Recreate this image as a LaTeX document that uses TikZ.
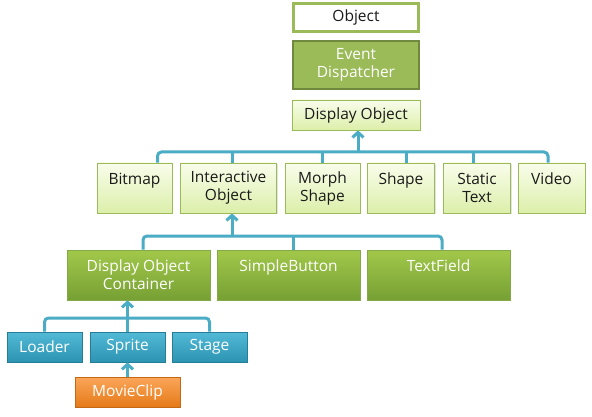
\documentclass[tikz,border=0pt]{standalone}
\usepackage{fontspec}
\setmainfont{Open Sans}
\usetikzlibrary{arrows.meta,shadows}
\definecolor{olive}{HTML}{9BBB59}
\definecolor{oliveDark}{HTML}{71893F}
\definecolor{leafTop}{HTML}{F9FDEB}
\definecolor{leafBot}{HTML}{DCEFAA}
\definecolor{grassTop}{HTML}{A2C84A}
\definecolor{grassBot}{HTML}{76A034}
\definecolor{skyTop}{HTML}{52BAD6}
\definecolor{skyBot}{HTML}{2C93B2}
\definecolor{sunTop}{HTML}{FBA65A}
\definecolor{sunBot}{HTML}{E57A18}
\definecolor{wire}{HTML}{4BACC6}
\definecolor{ink}{HTML}{1A1A1A}

\begin{document}
\begin{tikzpicture}[x=1pt,y=-1pt,>={Straight Barb[length=5pt,width=11pt]},
  box/.style={rectangle,align=center,inner sep=0pt,text=ink,font=\fontsize{15.5}{18}\selectfont,
    drop shadow={shadow xshift=1.3pt,shadow yshift=-1.3pt,opacity=.22}},
  rootbox/.style={box,draw=olive,line width=3pt,fill=white,minimum width=125pt,minimum height=28pt},
  basebox/.style={box,draw=oliveDark,line width=2.5pt,fill=olive,text=white,minimum width=126pt,minimum height=48pt},
  leafbox/.style={box,draw=olive,line width=.8pt,top color=leafTop,bottom color=leafBot,minimum height=#1},
  leafbox/.default=50pt,
  grassbox/.style={box,draw=grassBot!90,line width=.6pt,top color=grassTop,bottom color=grassBot,text=white,minimum width=143pt,minimum height=50pt},
  skybox/.style={box,draw=skyBot!85!black,line width=.6pt,top color=skyTop,bottom color=skyBot,text=white,minimum width=75pt,minimum height=30pt},
  sunbox/.style={box,draw=sunBot!85!black,line width=.6pt,top color=sunTop,bottom color=sunBot,text=white,minimum width=105pt,minimum height=30pt},
  link/.style={wire,line width=3pt,rounded corners=4pt}]
  \fill[white] (0,0) rectangle (592,417);
  \node[rootbox] (object) at (356,17.5) {Object};
  \node[basebox] (evdisp) at (356,65) {Event\\Dispatcher};
  \node[leafbox=30pt,minimum width=128pt] (dispobj) at (356,115) {Display Object};
  \node[leafbox,minimum width=75pt] (bitmap) at (134.5,188) {Bitmap\\\mbox{}};
  \node[leafbox,minimum width=96pt] (interobj) at (228.5,188) {Interactive\\Object};
  \node[leafbox,minimum width=75pt] (morph) at (322.5,188) {Morph\\Shape};
  \node[leafbox,minimum width=67pt] (shape) at (401,188) {Shape\\\mbox{}};
  \node[leafbox,minimum width=67pt] (stattext) at (477,188) {Static\\Text};
  \node[leafbox,minimum width=67pt] (video) at (551.5,188) {Video\\\mbox{}};
  \node[grassbox] (container) at (138.5,275) {Display Object\\Container};
  \node[grassbox] (button) at (288.5,275) {SimpleButton\\\mbox{}};
  \node[grassbox] (textfield) at (438.5,275) {TextField\\\mbox{}};
  \node[skybox] (loader) at (44.5,347) {Loader};
  \node[skybox] (sprite) at (127.5,347) {Sprite};
  \node[skybox] (stage) at (209.5,347) {Stage};
  \node[sunbox] (movieclip) at (127.5,392) {MovieClip};
  \coordinate (bar1) at (358,152);
  \coordinate (bar2) at (232,236);
  \coordinate (bar3) at (127.5,318);
  \draw[link] ([xshift=23pt]bitmap.north) -- ([xshift=23pt]bitmap.north |- bar1) -| ([xshift=-3.5pt]video.north);
  \draw[link] ([xshift=4pt]interobj.north) -- ([xshift=4pt]interobj.north |- bar1);
  \draw[link] (morph.north) -- (morph.north |- bar1);
  \draw[link] ([xshift=5pt]shape.north) -- ([xshift=5pt]shape.north |- bar1);
  \draw[link] ([xshift=-4pt]stattext.north) -- ([xshift=-4pt]stattext.north |- bar1);
  \draw[link,->] (bar1) -- (bar1 |- dispobj.south);
  \draw[link] ([xshift=4.5pt]container.north) -- ([xshift=4.5pt]container.north |- bar2) -| ([xshift=3.5pt]textfield.north);
  \draw[link] ([xshift=4.5pt]button.north) -- ([xshift=4.5pt]button.north |- bar2);
  \draw[link,->] (bar2) -- (bar2 |- interobj.south);
  \draw[link] (loader.north) -- (loader.north |- bar3) -| (stage.north);
  \draw[link] (sprite.north) -- (sprite.north |- bar3);
  \draw[link,->] (bar3) -- (bar3 |- container.south);
  \draw[link,->] (movieclip.north) -- (sprite.south);
\end{tikzpicture}
\end{document}
